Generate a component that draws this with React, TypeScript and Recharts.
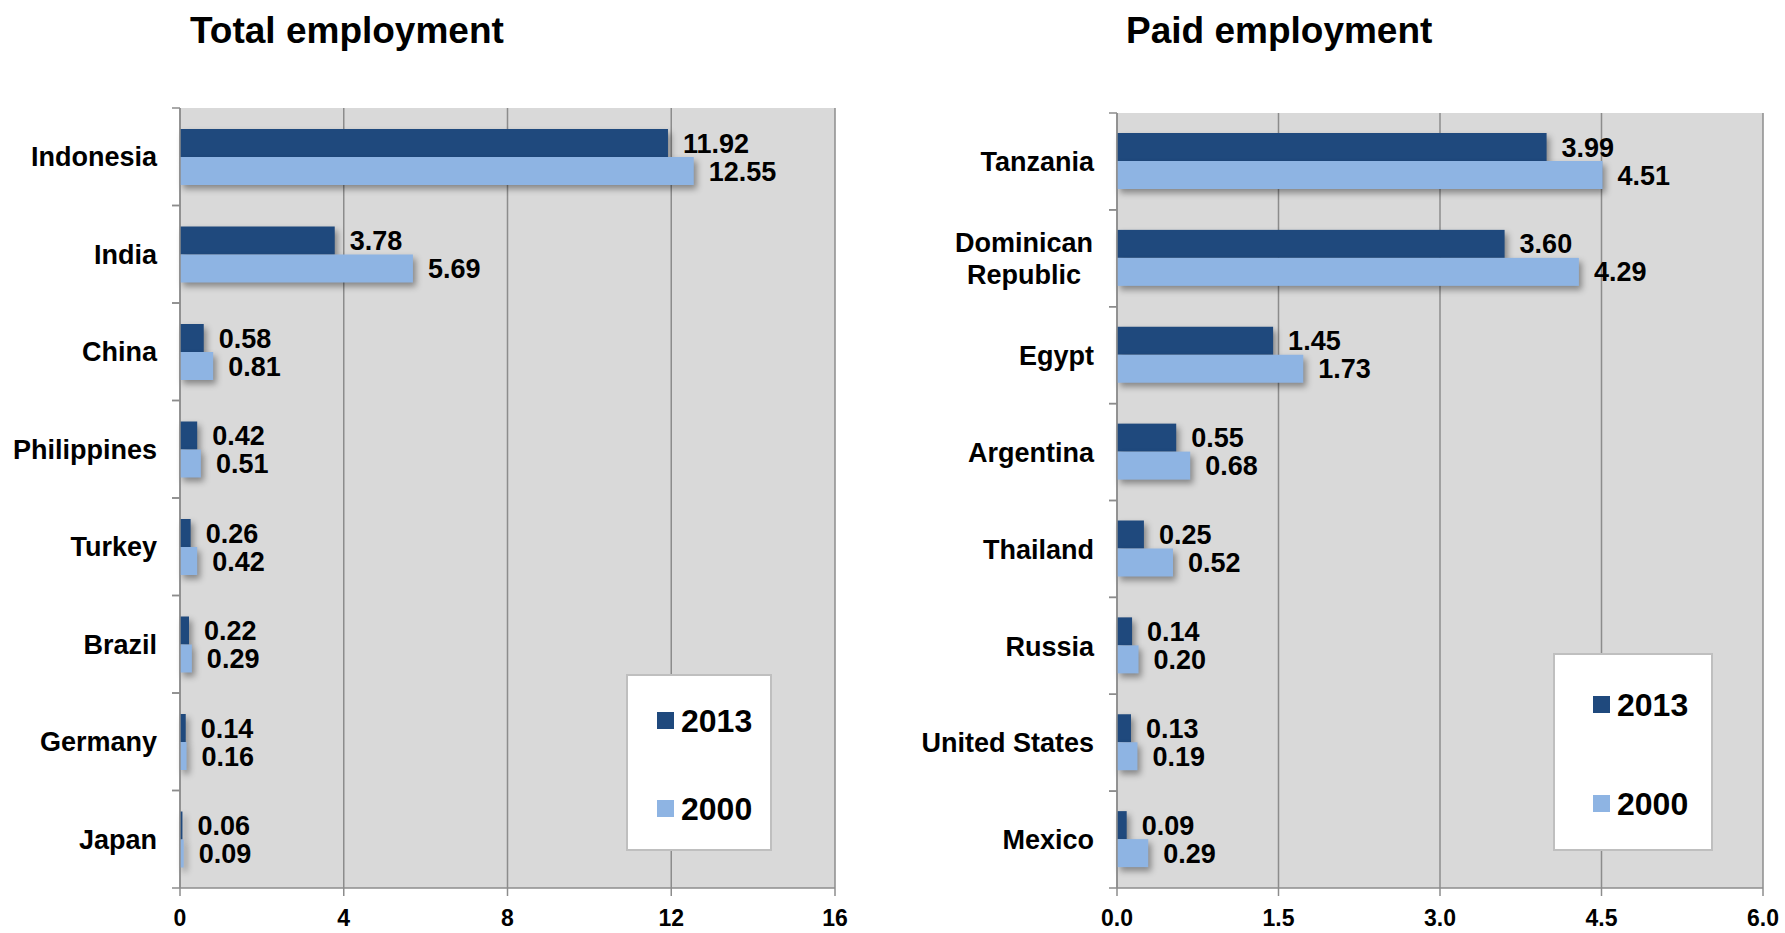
import React from "react";
import {
  BarChart,
  Bar,
  XAxis,
  YAxis,
  CartesianGrid,
  LabelList,
} from "recharts";

const FONT = '"Liberation Sans", Arial, sans-serif';
const DARK = "#1f497d";
const LIGHT = "#8eb4e3";
const GRID = "#8c8c8c";

// ---- Total employment ----
const totalCategories = ["Indonesia", "India", "China", "Philippines", "Turkey", "Brazil", "Germany", "Japan"];
const total2013 = [11.92, 3.78, 0.58, 0.42, 0.26, 0.22, 0.14, 0.06];
const total2000 = [12.55, 5.69, 0.81, 0.51, 0.42, 0.29, 0.16, 0.09];
const totalTicks = [0, 4, 8, 12, 16];

// ---- Paid employment ----
const paidCategories = ["Tanzania", "Dominican\nRepublic", "Egypt", "Argentina", "Thailand", "Russia", "United States", "Mexico"];
const paid2013 = [3.99, 3.6, 1.45, 0.55, 0.25, 0.14, 0.13, 0.09];
const paid2000 = [4.51, 4.29, 1.73, 0.68, 0.52, 0.2, 0.19, 0.29];
const paidTicks = [0, 1.5, 3.0, 4.5, 6.0];

const seriesNames = ["2013", "2000"];

const buildData = (cats: string[], a: number[], b: number[]) =>
  cats.map((c, i) => ({ name: c, v2013: a[i], v2000: b[i] }));

const totalData = buildData(totalCategories, total2013, total2000);
const paidData = buildData(paidCategories, paid2013, paid2000);

const ShadowBar = (props: any) => {
  const { x, y, width, height, fill } = props;
  if (width == null || height == null) return null;
  return (
    <rect
      x={x}
      y={y}
      width={Math.max(width, 0)}
      height={height}
      fill={fill}
      style={{ filter: "drop-shadow(3px 4px 3px rgba(0,0,0,0.38))" }}
    />
  );
};

const makeCategoryTick = (band: number, widest: number) => (props: any) => {
  const { x, y, payload } = props;
  const lines = String(payload.value).split("\n");
  const lh = 32;
  const startY = y - ((lines.length - 1) * lh) / 2;
  const multi = lines.length > 1;
  return (
    <g>
      <line x1={x - 8} x2={x} y1={y - band / 2} y2={y - band / 2} stroke={GRID} strokeWidth={1.5} />
      <line x1={x - 8} x2={x} y1={y + band / 2} y2={y + band / 2} stroke={GRID} strokeWidth={1.5} />
      {lines.map((l, i) => (
        <text
          key={i}
          x={multi ? x - 23 - widest / 2 : x - 23}
          y={startY + i * lh}
          dy="0.36em"
          textAnchor={multi ? "middle" : "end"}
          fontFamily={FONT}
          fontWeight="bold"
          fontSize={27}
          fill="#000"
        >
          {l}
        </text>
      ))}
    </g>
  );
};

type LegendBox = { left: number; top: number; w: number; h: number; mx: number; my1: number; my2: number; tx: number };

const LegendOverlay = ({ box }: { box: LegendBox }) => (
  <div
    style={{
      position: "absolute",
      left: box.left,
      top: box.top,
      width: box.w,
      height: box.h,
      background: "#fff",
      border: "2px solid #bfbfbf",
      boxSizing: "border-box",
      fontFamily: FONT,
    }}
  >
    {[DARK, LIGHT].map((c, i) => {
      const my = i === 0 ? box.my1 : box.my2;
      return (
        <React.Fragment key={i}>
          <div style={{ position: "absolute", left: box.mx, top: my, width: 17, height: 17, background: c }} />
          <div
            style={{
              position: "absolute",
              left: box.tx,
              top: my + 8.5 - 18,
              height: 36,
              lineHeight: "36px",
              fontSize: 32,
              fontWeight: "bold",
              color: "#000",
            }}
          >
            {seriesNames[i]}
          </div>
        </React.Fragment>
      );
    })}
  </div>
);

type PanelProps = {
  data: any[];
  left: number;
  width: number;
  top: number;
  yWidth: number;
  rightMargin: number;
  domainMax: number;
  ticks: number[];
  fmt: (v: number) => string;
  widest: number;
};

const labelStyle = { fontFamily: FONT, fontWeight: "bold", fontSize: 27, fill: "#000" };

const Panel = (p: PanelProps) => {
  const height = 933;
  const bottom = 45;
  const band = (height - p.top - bottom) / p.data.length;
  return (
    <div style={{ position: "absolute", left: p.left, top: 0 }}>
      <BarChart
        width={p.width}
        height={height}
        data={p.data}
        layout="vertical"
        margin={{ top: p.top, right: p.rightMargin, bottom: 0, left: 10 }}
        barGap={0}
        barSize={28}
      >
        <CartesianGrid horizontal={false} vertical={true} stroke={GRID} strokeWidth={1.5} fill="#d9d9d9" />
        <XAxis
          type="number"
          domain={[0, p.domainMax]}
          ticks={p.ticks}
          tickFormatter={p.fmt}
          height={bottom}
          axisLine={{ stroke: GRID, strokeWidth: 1.5 }}
          tickLine={{ stroke: GRID, strokeWidth: 1.5 }}
          tickSize={8}
          tickMargin={14}
          tick={{ fontFamily: FONT, fontWeight: "bold", fontSize: 23, fill: "#000" }}
          interval={0}
        />
        <YAxis
          type="category"
          dataKey="name"
          width={p.yWidth}
          axisLine={{ stroke: GRID, strokeWidth: 1.5 }}
          tickLine={false}
          tickSize={0}
          tickMargin={0}
          interval={0}
          tick={makeCategoryTick(band, p.widest)}
        />
        <Bar dataKey="v2013" name="2013" fill={DARK} isAnimationActive={false} shape={<ShadowBar />}>
          <LabelList
            dataKey="v2013"
            position="right"
            offset={15}
            formatter={(v: any) => Number(v).toFixed(2)}
            style={labelStyle}
          />
        </Bar>
        <Bar dataKey="v2000" name="2000" fill={LIGHT} isAnimationActive={false} shape={<ShadowBar />}>
          <LabelList
            dataKey="v2000"
            position="right"
            offset={15}
            formatter={(v: any) => Number(v).toFixed(2)}
            style={labelStyle}
          />
        </Bar>
      </BarChart>
    </div>
  );
};

const titleStyle: React.CSSProperties = {
  position: "absolute",
  top: 11,
  fontSize: 37,
  lineHeight: "40px",
  fontWeight: "bold",
  color: "#000",
  whiteSpace: "nowrap",
};

export default function App() {
  return (
    <div
      style={{
        position: "absolute",
        left: 0,
        top: 0,
        width: 1785,
        height: 933,
        background: "#fff",
        fontFamily: FONT,
        overflow: "hidden",
      }}
    >
      <div style={{ ...titleStyle, left: 190 }}>Total employment</div>
      <div style={{ ...titleStyle, left: 1126 }}>Paid employment</div>
      <Panel
        data={totalData}
        left={0}
        width={900}
        top={108}
        yWidth={170}
        rightMargin={65}
        domainMax={16}
        ticks={totalTicks}
        fmt={(v) => String(v)}
        widest={0}
      />
      <Panel
        data={paidData}
        left={900}
        width={885}
        top={113}
        yWidth={207}
        rightMargin={22}
        domainMax={6}
        ticks={paidTicks}
        fmt={(v) => v.toFixed(1)}
        widest={140}
      />
      <LegendOverlay box={{ left: 626, top: 674, w: 146, h: 177, mx: 29, my1: 36, my2: 124, tx: 53 }} />
      <LegendOverlay box={{ left: 1553, top: 653, w: 160, h: 198, mx: 38, my1: 41, my2: 140, tx: 62 }} />
    </div>
  );
}
